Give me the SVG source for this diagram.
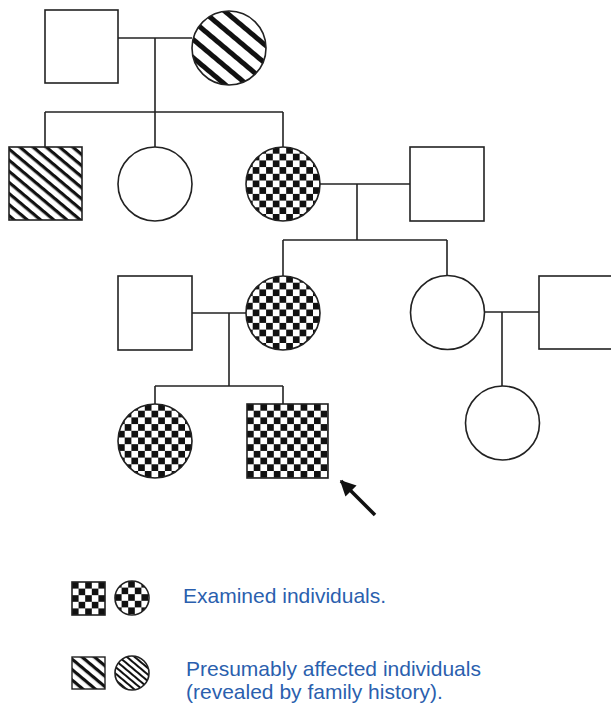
<svg xmlns="http://www.w3.org/2000/svg" width="611" height="707" viewBox="0 0 611 707">
<style>
.sym{stroke:#222;stroke-width:1.6;fill:#fff}
.chk{stroke:#222;stroke-width:1.6;fill:url(#checker)}
.chs{stroke:#222;stroke-width:1.6;fill:url(#checkerS)}
.line{stroke:#222;stroke-width:1.6;fill:none}
.lbl{font-family:"Liberation Sans",Arial,sans-serif;font-size:21px;fill:#2b5fae}
</style>
<defs>
<pattern id="checker" patternUnits="userSpaceOnUse" width="13.4" height="13.4">
<rect width="13.4" height="13.4" fill="#fff"/>
<rect width="6.7" height="6.7" fill="#111"/>
<rect x="6.7" y="6.7" width="6.7" height="6.7" fill="#111"/>
</pattern>
<pattern id="checkerS" patternUnits="userSpaceOnUse" width="13.2" height="13.2">
<rect width="13.2" height="13.2" fill="#fff"/>
<rect width="6.6" height="6.6" fill="#111"/>
<rect x="6.6" y="6.6" width="6.6" height="6.6" fill="#111"/>
</pattern>
<pattern id="stripeBig" patternUnits="userSpaceOnUse" width="14" height="14" patternTransform="rotate(40)">
<rect width="14" height="14" fill="#fff"/>
<rect y="0" width="14" height="5" fill="#111"/>
</pattern>
<pattern id="stripeSq" patternUnits="userSpaceOnUse" width="8.5" height="8.5" patternTransform="rotate(40)">
<rect width="8.5" height="8.5" fill="#fff"/>
<rect y="0" width="8.5" height="3.2" fill="#111"/>
</pattern>
<pattern id="stripeLsq" patternUnits="userSpaceOnUse" width="8" height="8" patternTransform="rotate(40)">
<rect width="8" height="8" fill="#fff"/>
<rect y="0" width="8" height="3.2" fill="#111"/>
</pattern>
<pattern id="stripeLc" patternUnits="userSpaceOnUse" width="5" height="5" patternTransform="rotate(40)">
<rect width="5" height="5" fill="#fff"/>
<rect y="0" width="5" height="2" fill="#111"/>
</pattern>
<marker id="arrow" viewBox="0 0 10 10" refX="9" refY="5" markerWidth="4.5" markerHeight="4.5" orient="auto" markerUnits="strokeWidth">
<path d="M0,0 L10,5 L0,10 Z" fill="#111"/>
</marker>
</defs>

<g id="connectors">
<path class="line" d="M118,38 H192"/>
<path class="line" d="M155,38 V112"/>
<path class="line" d="M45,112 H283"/>
<path class="line" d="M45,112 V147 M155,112 V147 M283,112 V147"/>
<path class="line" d="M320,184 H410"/>
<path class="line" d="M357,184 V240"/>
<path class="line" d="M283,240 H447"/>
<path class="line" d="M283,240 V276 M447,240 V276"/>
<path class="line" d="M192,313 H246"/>
<path class="line" d="M229,313 V386"/>
<path class="line" d="M155,386 H283"/>
<path class="line" d="M155,386 V404 M283,386 V404"/>
<path class="line" d="M484,312 H539"/>
<path class="line" d="M502,312 V386"/>
<line x1="375" y1="515" x2="341" y2="481" stroke="#111" stroke-width="3.5" marker-end="url(#arrow)"/>
</g>

<g id="I1"><rect class="sym" x="45" y="10" width="73" height="73"/></g>
<g id="I2" transform="translate(229,48)"><circle r="37" fill="url(#stripeBig)" stroke="#222" stroke-width="1.6"/></g>

<g id="II1" transform="translate(9,147)"><rect width="73" height="73" fill="url(#stripeSq)" stroke="#222" stroke-width="1.6"/></g>
<g id="II2"><circle class="sym" cx="155" cy="184" r="37"/></g>
<g id="II3" transform="translate(246,147)"><circle class="chk" cx="37" cy="37" r="37"/></g>
<g id="II4"><rect class="sym" x="410" y="147" width="74" height="74"/></g>

<g id="III1"><rect class="sym" x="118" y="276" width="74" height="74"/></g>
<g id="III2" transform="translate(246,276)"><circle class="chk" cx="37" cy="37" r="37"/></g>
<g id="III3"><circle class="sym" cx="447.5" cy="312.5" r="37"/></g>
<g id="III4"><rect class="sym" x="539" y="276" width="80" height="73"/></g>

<g id="IV1" transform="translate(118,404)"><circle class="chk" cx="37" cy="37" r="37"/></g>
<g id="IV2" transform="translate(247,404)"><rect class="chk" width="81" height="74"/></g>
<g id="IV3"><circle class="sym" cx="502.5" cy="423" r="37"/></g>

<g id="legend">
<g transform="translate(72,582)"><rect class="chs" width="33" height="33"/></g>
<g transform="translate(115,581)"><circle class="chs" cx="17" cy="17" r="17"/></g>
<text class="lbl" x="183" y="603">Examined individuals.</text>
<g transform="translate(72,657)"><rect width="33" height="32" fill="url(#stripeLsq)" stroke="#222" stroke-width="1.4"/></g>
<g transform="translate(132,673)"><circle r="17" fill="url(#stripeLc)" stroke="#222" stroke-width="1.6"/></g>
<text class="lbl" x="186" y="676">Presumably affected individuals</text>
<text class="lbl" x="186" y="699">(revealed by family history).</text>
</g>
</svg>
